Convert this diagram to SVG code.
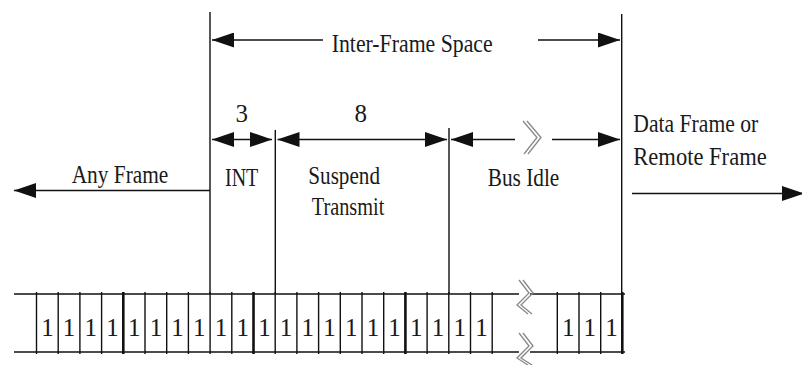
<svg xmlns="http://www.w3.org/2000/svg" width="802" height="365" viewBox="0 0 802 365">
<style>
  .ln{stroke:#111;stroke-width:1.4;fill:none}
  .thk{stroke:#111;stroke-width:2.6;fill:none}
  .arr{stroke:#111;stroke-width:1.5;fill:none;marker-end:url(#ah)}
  .arr2{stroke:#111;stroke-width:1.5;fill:none;marker-start:url(#ah);marker-end:url(#ah)}
  .zz{stroke:#888;stroke-width:1.3;fill:none}
  text{font-family:"Liberation Serif","Times New Roman",serif;font-size:25px;fill:#1a1a1a}
  .c{text-anchor:middle}
</style>
<defs>
  <marker id="ah" markerUnits="userSpaceOnUse" markerWidth="22" markerHeight="15" refX="22" refY="7.5" orient="auto-start-reverse">
    <path d="M0,0 L22,7.5 L0,15 z" fill="#111"/>
  </marker>
</defs>
<rect width="802" height="365" fill="#fff"/>

<g id="boundaries">
  <line class="ln" x1="210" y1="12" x2="210" y2="294"/>
  <line class="ln" x1="621.7" y1="14" x2="621.7" y2="294"/>
  <line class="ln" x1="275.3" y1="130" x2="275.3" y2="294"/>
  <line class="ln" x1="449" y1="128" x2="449" y2="294"/>
</g>

<g id="connectors">
  <line class="arr" x1="323" y1="40" x2="212" y2="40"/>
  <line class="arr" x1="538" y1="40" x2="620" y2="40"/>
  <line class="arr2" x1="212" y1="139.5" x2="272" y2="139.5"/>
  <line class="arr2" x1="277.5" y1="139.5" x2="447" y2="139.5"/>
  <line class="arr" x1="515" y1="139.5" x2="451" y2="139.5"/>
  <line class="arr" x1="552" y1="139.5" x2="620" y2="139.5"/>
  <line class="arr" x1="210" y1="190.5" x2="14" y2="190.5"/>
  <line class="arr" x1="632" y1="193.5" x2="804" y2="193.5"/>
  <g id="idle-break">
    <polyline class="zz" points="523,121 537,137.5 524,154"/>
    <polyline class="zz" points="527,121 541,137.5 528,154"/>
  </g>
</g>

<g id="labels">
  <text id="lbl-ifs" x="331.7" y="52" textLength="161" lengthAdjust="spacingAndGlyphs">Inter-Frame Space</text>
  <text id="lbl-3" class="c" x="241.7" y="121.5">3</text>
  <text id="lbl-8" class="c" x="360.7" y="121.5">8</text>
  <text id="lbl-any" x="71.7" y="182.5" textLength="96.6" lengthAdjust="spacingAndGlyphs">Any Frame</text>
  <text id="lbl-int" x="225" y="186" textLength="33.3" lengthAdjust="spacingAndGlyphs">INT</text>
  <text id="lbl-susp" x="308.3" y="183.5" textLength="71.7" lengthAdjust="spacingAndGlyphs">Suspend</text>
  <text id="lbl-trans" x="311.7" y="215" textLength="72.6" lengthAdjust="spacingAndGlyphs">Transmit</text>
  <text id="lbl-idle" x="487.7" y="186" textLength="71.6" lengthAdjust="spacingAndGlyphs">Bus Idle</text>
  <text id="lbl-data" x="633.3" y="131.7" textLength="125" lengthAdjust="spacingAndGlyphs">Data Frame or</text>
  <text id="lbl-remote" x="633.3" y="165" textLength="133.4" lengthAdjust="spacingAndGlyphs">Remote Frame</text>
</g>

<g id="bit-row">
  <line class="ln" x1="14" y1="294" x2="519" y2="294"/>
  <line class="ln" x1="530" y1="294" x2="625" y2="294"/>
  <line class="ln" x1="14" y1="352" x2="519" y2="352"/>
  <line class="ln" x1="530" y1="352" x2="625" y2="352"/>
  <g id="dividers">
    <line class="ln" x1="36.5" y1="292" x2="36.5" y2="354"/>
    <line class="ln" x1="58.2" y1="292" x2="58.2" y2="354"/>
    <line class="ln" x1="79.9" y1="292" x2="79.9" y2="354"/>
    <line class="ln" x1="101.6" y1="292" x2="101.6" y2="354"/>
    <line class="thk" x1="123.3" y1="292" x2="123.3" y2="354"/>
    <line class="ln" x1="145" y1="292" x2="145" y2="354"/>
    <line class="ln" x1="166.7" y1="292" x2="166.7" y2="354"/>
    <line class="ln" x1="188.4" y1="292" x2="188.4" y2="354"/>
    <line class="ln" x1="210.1" y1="292" x2="210.1" y2="354"/>
    <line class="ln" x1="231.8" y1="292" x2="231.8" y2="354"/>
    <line class="thk" x1="253.5" y1="292" x2="253.5" y2="354"/>
    <line class="ln" x1="275.2" y1="292" x2="275.2" y2="354"/>
    <line class="ln" x1="296.9" y1="292" x2="296.9" y2="354"/>
    <line class="ln" x1="318.6" y1="292" x2="318.6" y2="354"/>
    <line class="ln" x1="340.3" y1="292" x2="340.3" y2="354"/>
    <line class="ln" x1="362" y1="292" x2="362" y2="354"/>
    <line class="ln" x1="383.7" y1="292" x2="383.7" y2="354"/>
    <line class="thk" x1="405.4" y1="292" x2="405.4" y2="354"/>
    <line class="ln" x1="427.1" y1="292" x2="427.1" y2="354"/>
    <line class="ln" x1="448.8" y1="292" x2="448.8" y2="354"/>
    <line class="ln" x1="470.5" y1="292" x2="470.5" y2="354"/>
    <line class="ln" x1="492.2" y1="292" x2="492.2" y2="354"/>
    <line class="ln" x1="557.3" y1="292" x2="557.3" y2="354"/>
    <line class="ln" x1="579" y1="292" x2="579" y2="354"/>
    <line class="ln" x1="600.7" y1="292" x2="600.7" y2="354"/>
    <line class="thk" x1="622.3" y1="292" x2="622.3" y2="354"/>
  </g>
  <g id="row-break">
    <polyline class="zz" points="519,280 529,293 517,305 528,314"/>
    <polyline class="zz" points="523,280 533,293 521,305 532,314"/>
    <polyline class="zz" points="519,333 529,346 517,358 528,365"/>
    <polyline class="zz" points="523,333 533,346 521,358 532,365"/>
  </g>
  <g id="bits">
    <text class="c" x="47.4" y="336">1</text>
    <text class="c" x="69.1" y="336">1</text>
    <text class="c" x="90.8" y="336">1</text>
    <text class="c" x="112.5" y="336">1</text>
    <text class="c" x="134.2" y="336">1</text>
    <text class="c" x="155.9" y="336">1</text>
    <text class="c" x="177.6" y="336">1</text>
    <text class="c" x="199.3" y="336">1</text>
    <text class="c" x="221" y="336">1</text>
    <text class="c" x="242.7" y="336">1</text>
    <text class="c" x="264.4" y="336">1</text>
    <text class="c" x="286.1" y="336">1</text>
    <text class="c" x="307.8" y="336">1</text>
    <text class="c" x="329.5" y="336">1</text>
    <text class="c" x="351.2" y="336">1</text>
    <text class="c" x="372.9" y="336">1</text>
    <text class="c" x="394.6" y="336">1</text>
    <text class="c" x="416.3" y="336">1</text>
    <text class="c" x="438" y="336">1</text>
    <text class="c" x="459.7" y="336">1</text>
    <text class="c" x="481.4" y="336">1</text>
    <text class="c" x="568.2" y="336">1</text>
    <text class="c" x="589.8" y="336">1</text>
    <text class="c" x="611.5" y="336">1</text>
  </g>
</g>
</svg>
